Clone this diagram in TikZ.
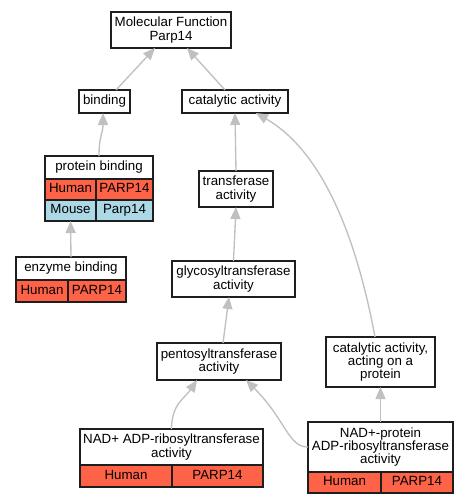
\documentclass[tikz,border=0pt]{standalone}
\usepackage{fontspec}
\setmainfont{Liberation Sans}
\usetikzlibrary{arrows.meta,calc}
\definecolor{hum}{RGB}{255,99,71}
\definecolor{mou}{RGB}{173,216,230}
\definecolor{edgec}{RGB}{192,192,192}
\definecolor{bord}{RGB}{30,30,30}
\newcommand\gbox[7]{\node[gnode,fill=#6,minimum width={(#4-#2)*0.75pt},minimum height={(#5-#3)*0.75pt}] (#1) at ({(#2+#4)/2},{(#3+#5)/2}) {#7};}
\tikzset{
  gnode/.style={draw=bord,line width=1pt,inner sep=0pt,outer sep=0pt,align=center,
    font=\fontsize{10}{10}\selectfont,
    execute at begin node=\vphantom{Ag},execute at end node=\vphantom{Ag}},
  gedge/.style={draw=edgec,line width=1pt,-{Triangle[length=9pt,width=7.5pt]}}
}
\begin{document}
\begin{tikzpicture}[x=0.75pt,y=-0.75pt]
\fill[white] (0,0) rectangle (468,504);
\useasboundingbox (0,0) rectangle (468,504);
% nodes
\gbox{mf}{111}{12}{231}{48}{white}{Molecular Function\\Parp14}
\gbox{bind}{79}{90}{130}{113}{white}{binding}
\gbox{cat}{182}{90}{288}{113}{white}{catalytic activity}
\gbox{pb}{45}{156}{153}{179}{white}{protein binding}
\gbox{pbh}{45}{179}{96}{200}{hum}{Human}
\gbox{pbhg}{96}{179}{153}{200}{hum}{PARP14}
\gbox{pbm}{45}{200}{96}{221}{mou}{Mouse}
\gbox{pbmg}{96}{200}{153}{221}{mou}{Parp14}
\gbox{eb}{16}{257}{126}{280}{white}{enzyme binding}
\gbox{ebh}{16}{280}{68}{302}{hum}{Human}
\gbox{ebhg}{68}{280}{126}{302}{hum}{PARP14}
\gbox{tr}{199}{171}{273}{207}{white}{transferase\\activity}
\gbox{gly}{172}{261}{295}{297}{white}{glycosyltransferase\\activity}
\gbox{pent}{157}{343}{281}{380}{white}{pentosyltransferase\\activity}
\gbox{caop}{326}{337}{435}{387}{white}{catalytic activity,\\acting on a\\protein}
\gbox{nada}{80}{429}{263}{465}{white}{NAD+ ADP-ribosyltransferase\\activity}
\gbox{nadah}{80}{465}{172}{487}{hum}{Human}
\gbox{nadag}{172}{465}{263}{487}{hum}{PARP14}
\gbox{nadb}{308}{422}{453}{472}{white}{NAD+-protein\\ADP-ribosyltransferase\\activity}
\gbox{nadbh}{308}{472}{381}{493}{hum}{Human}
\gbox{nadbg}{381}{472}{453}{493}{hum}{PARP14}
% edges
\draw[gedge] ($(bind.north)+(11.5,0)$) -- ($(mf.south)+(-16,0)$);
\draw[gedge] ($(cat.north)+(-10,0)$) -- ($(mf.south)+(16,0)$);
\draw[gedge] (pb.north) .. controls +(0,-20) and +(0,20) .. ($(bind.south)+(-1.5,0)$);
\draw[gedge] (eb.north) -- (pbm.south);
\draw[gedge] (tr.north) -- (cat.south);
\draw[gedge] ($(caop.north)+(-5.5,0)$) .. controls +(-20,-107) and +(64,37) .. ($(cat.south)+(21,0)$);
\draw[gedge] (gly.north) -- (tr.south);
\draw[gedge] ($(pent.north)+(4,0)$) -- ($(gly.south)+(-4.5,0)$);
\draw[gedge] (nada.north) .. controls +(0,-25) and +(-12,18) .. ($(pent.south)+(-22,0)$);
\draw[gedge] (nadb.west) .. controls +(-20,0) and +(40,40) .. ($(pent.south)+(27,0)$);
\draw[gedge] (nadb.north) -- (caop.south);
\end{tikzpicture}
\end{document}
